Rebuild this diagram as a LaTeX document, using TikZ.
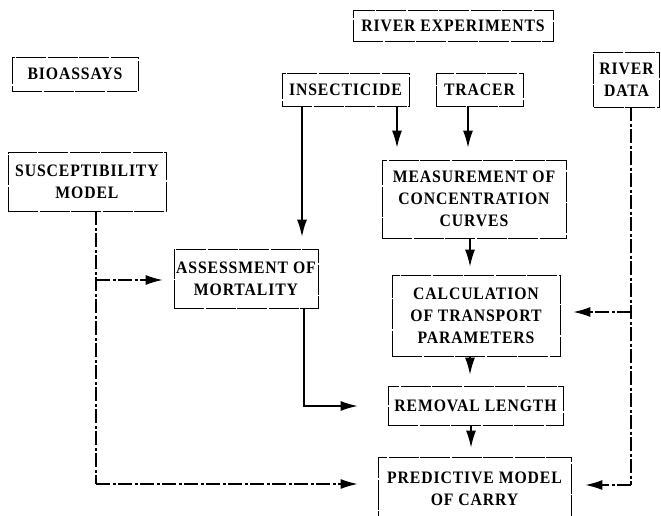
\documentclass[tikz,border=0pt]{standalone}
\usepackage{fontspec}
\setmainfont{Liberation Serif}
\newfontfamily\boxfont{Liberation Serif}[LetterSpace=5.0, FakeStretch=0.9]
\usetikzlibrary{arrows.meta}
\tikzset{
  blk/.style={draw, line width=0.9pt, dash pattern=on 30pt off 1.5pt, align=center, inner sep=0pt,
    font=\boxfont\bfseries\fontsize{17.5}{22}\selectfont},
  arr/.style={line width=1.2pt, -{Latex[length=17pt,width=10pt]}},
  dsh/.style={line width=1.1pt, dash pattern=on 14pt off 2.5pt on 3pt off 2.5pt},
}
\begin{document}
\begin{tikzpicture}[x=1pt,y=1pt]
\useasboundingbox (0,0) rectangle (661,-516);
\node[blk, minimum width=126, minimum height=34] (bio) at (75,-74) {BIOASSAYS};
\node[blk, minimum width=200, minimum height=31] (rexp) at (453,-25.5) {RIVER EXPERIMENTS};
\node[blk, minimum width=127, minimum height=33] (ins) at (345.5,-89.5) {INSECTICIDE};
\node[blk, minimum width=87, minimum height=33] (tra) at (479.5,-89.5) {TRACER};
\node[blk, minimum width=66, minimum height=55] (rdat) at (626.5,-79.5) {RIVER\\DATA};
\node[blk, minimum width=158, minimum height=59] (sus) at (87,-181.5) {SUSCEPTIBILITY\\MODEL};
\node[blk, minimum width=184, minimum height=78] (meas) at (474,-199) {MEASUREMENT OF\\CONCENTRATION\\CURVES};
\node[blk, minimum width=144, minimum height=59] (ass) at (246,-278.5) {ASSESSMENT OF\\MORTALITY};
\node[blk, minimum width=168, minimum height=81] (calc) at (476,-315.5) {CALCULATION\\OF TRANSPORT\\PARAMETERS};
\node[blk, minimum width=175, minimum height=39] (rem) at (475.5,-405.5) {REMOVAL LENGTH};
\node[blk, minimum width=193, minimum height=64, text depth=-4pt] (pred) at (474.5,-489) {PREDICTIVE MODEL\\OF CARRY};
% x positions of vertical connectors
\coordinate (xi) at (302,0);
\coordinate (xj) at (397,0);
\coordinate (xt) at (468,0);
\coordinate (xm) at (470,0);
\coordinate (xr) at (471,0);
% solid connectors
\draw[arr, shorten >=12pt] (ins.south -| xi) -- (ass.north -| xi);
\draw[arr, shorten >=12pt] (ins.south -| xj) -- (meas.north -| xj);
\draw[arr, shorten >=12pt] (tra.south -| xt) -- (meas.north -| xt);
\draw[arr, shorten >=8pt] (meas.south -| xm) -- (calc.north -| xm);
\draw[arr, shorten >=11pt] (calc.south -| xm) -- (rem.north -| xm);
\draw[arr, shorten >=9pt] (rem.south -| xr) -- (pred.north -| xr);
\coordinate (ab) at (304,-406);
\draw[arr, shorten >=30pt] (ass.south -| ab) -- (ab) -- (rem.west |- ab);
% susceptibility model lines
\coordinate (sm) at (96,-280);
\coordinate (sb) at (96,-484);
\draw[dsh] (sus.south -| sb) -- (sb);
\draw[dsh, arr, shorten >=11pt] (sm) -- (ass.west |- sm);
\draw[dsh, arr, shorten >=20pt] (sb) -- (pred.west |- sb);
% river data lines
\coordinate (rm) at (631,-312);
\coordinate (rb) at (631,-485);
\draw[dsh] (rdat.south -| rb) -- (rb);
\draw[dsh, arr, shorten >=13pt] (rm) -- (calc.east |- rm);
\draw[dsh, arr, shorten >=14pt] (rb) -- (pred.east |- rb);
\end{tikzpicture}
\end{document}
